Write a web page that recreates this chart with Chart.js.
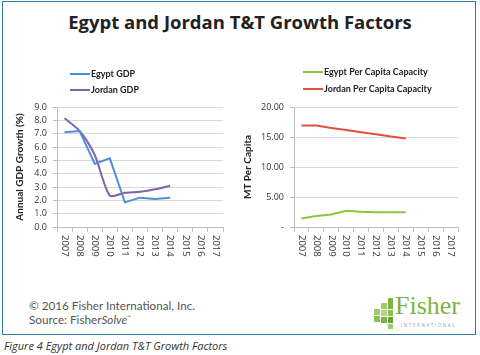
<!DOCTYPE html>
<html>
<head>
<meta charset="utf-8">
<script src="https://cdn.jsdelivr.net/npm/chart.js@4"></script>
<style>
  html, body { margin:0; padding:0; background:#fff; }
  body { width:480px; height:355px; position:relative; overflow:hidden; font-family:'Open Sans', sans-serif; }
  #frame { position:absolute; left:2px; top:1px; width:472px; height:332px; border:1.5px solid #2f7c9e; }
  #title { position:absolute; left:0; top:10px; width:480px; text-align:center; font-family:'Open Sans'; font-weight:bold; font-size:18.5px; color:#222; line-height:24px; }
  .cv { position:absolute; top:40px; }
  #copy { position:absolute; left:29px; top:299px; font-family:'Lato'; font-size:11.7px; color:#555; line-height:12px; }
  #caption { position:absolute; left:4px; top:339px; font-family:'Open Sans'; font-style:italic; font-size:11px; color:#333; line-height:14px; }
  .blk { position:absolute; background:#8cc152; }
  #fisher { position:absolute; left:395px; top:291px; font-family:'Liberation Serif'; font-size:26px; color:#7cb342; line-height:30px; }
  #intl { position:absolute; left:401px; top:322px; font-family:'Open Sans'; font-size:4.5px; letter-spacing:1.6px; color:#9a9a9a; }
</style>
</head>
<body>
<div id="frame"></div>
<div id="title">Egypt and Jordan T&amp;T Growth Factors</div>
<canvas id="c1" class="cv" width="240" height="240" style="left:0px"></canvas>
<canvas id="c2" class="cv" width="240" height="240" style="left:240px"></canvas>
<div id="copy">© 2016 Fisher International, Inc.<br>Source: Fisher<i>Solve</i><sup style="font-size:5px">™</sup></div>
<div class="blk" style="left:388px;top:298px;width:5px;height:11px;background:#7cb342"></div>
<div class="blk" style="left:381px;top:303px;width:6px;height:6px;background:#9ccc65"></div>
<div class="blk" style="left:388px;top:310px;width:5px;height:6px;background:#8bc34a"></div>
<div class="blk" style="left:381px;top:310px;width:6px;height:6px;background:#aed581"></div>
<div class="blk" style="left:374px;top:309px;width:6px;height:6px;background:#9ccc65"></div>
<div class="blk" style="left:388px;top:317px;width:5px;height:6px;background:#689f38"></div>
<div class="blk" style="left:381px;top:317px;width:6px;height:6px;background:#7cb342"></div>
<div class="blk" style="left:374px;top:316px;width:6px;height:6px;background:#8bc34a"></div>
<div class="blk" style="left:388px;top:324px;width:5px;height:5px;background:#9ccc65"></div>
<div id="fisher">Fisher</div>
<div id="intl">INTERNATIONAL</div>
<div id="caption">Figure 4 Egypt and Jordan T&amp;T Growth Factors</div>

<script>
// ---- data ----
const years = ['2007','2008','2009','2010','2011','2012','2013','2014','2015','2016','2017'];
const egyptGdp = [7.1, 7.2, 4.75, 5.15, 1.85, 2.2, 2.1, 2.2];
const jordanGdp = [8.15, 7.2, 5.4, 2.35, 2.57, 2.65, 2.83, 3.1];
const egyptCap = [1.4, 1.85, 2.07, 2.72, 2.55, 2.45, 2.45, 2.45];
const jordanCap = [16.9, 16.9, 16.5, 16.15, 15.8, 15.45, 15.1, 14.75];
const gdpTicks = { min: 0, max: 9, step: 1 };
const capTicks = { min: 0, max: 20, step: 5 };

Chart.defaults.font.family = "'Open Sans', sans-serif";
Chart.defaults.color = '#333';

const customDraw = {
  id: 'customDraw',
  afterDraw(chart, args, opts) {
    const ctx = chart.ctx;
    const xs = chart.scales.x;
    // rotated category labels (reading top to bottom)
    ctx.save();
    ctx.fillStyle = '#333';
    ctx.font = "9.5px 'Open Sans'";
    ctx.textAlign = 'left';
    ctx.textBaseline = 'middle';
    xs.ticks.forEach((t, i) => {
      const x = xs.getPixelForTick(i);
      ctx.save();
      ctx.translate(x, xs.top + 8);
      ctx.rotate(Math.PI / 2);
      ctx.fillText(xs.getLabelForValue(t.value), 0, 0);
      ctx.restore();
    });
    // legend
    ctx.font = "bold 9px Lato";
    chart.data.datasets.forEach((ds, i) => {
      const y = opts.legendY + i * opts.legendGap;
      ctx.strokeStyle = ds.borderColor;
      ctx.lineWidth = 2;
      ctx.beginPath();
      ctx.moveTo(opts.legendX, y);
      ctx.lineTo(opts.legendX + 20, y);
      ctx.stroke();
      ctx.fillStyle = '#222';
      ctx.fillText(ds.label, opts.legendX + 21, y);
    });
    ctx.restore();
  }
};

function makeChart(id, datasets, tk, fmt, yTitle, pad, yWidth, titlePad, legend) {
  return new Chart(document.getElementById(id), {
    type: 'line',
    data: { labels: years, datasets },
    plugins: [customDraw],
    options: {
      responsive: false,
      animation: false,
      devicePixelRatio: 1,
      layout: { padding: pad },
      plugins: {
        legend: { display: false },
        tooltip: { enabled: false },
        customDraw: legend
      },
      elements: { point: { radius: 0 }, line: { borderWidth: 2 } },
      scales: {
        x: {
          offset: true,
          grid: { display: true, drawOnChartArea: false, drawTicks: true, tickLength: 5, offset: true, color: '#bfbfbf' },
          border: { color: '#bfbfbf' },
          ticks: { color: 'rgba(0,0,0,0)', autoSkip: false, minRotation: 90, maxRotation: 90, font: { size: 9.5 } },
          afterFit(s) { s.height = 53; }
        },
        y: {
          min: tk.min, max: tk.max,
          grid: { color: '#d9d9d9', drawTicks: true, tickLength: 4, tickColor: '#bfbfbf' },
          border: { color: '#bfbfbf' },
          ticks: { stepSize: tk.step, autoSkip: false, padding: 6, color: '#333', font: { size: 9 }, callback: fmt },
          title: { display: true, text: yTitle, color: '#222', font: { family: 'Lato', weight: 'bold', size: 10 }, padding: { top: titlePad, bottom: 0 } },
          afterFit(s) { s.width = yWidth; }
        }
      }
    }
  });
}

makeChart('c1', [
  { label: 'Egypt GDP', data: egyptGdp, borderColor: '#4f8fd8', tension: 0 },
  { label: 'Jordan GDP', data: jordanGdp, borderColor: '#7f62a8', tension: 0.25 }
], gdpTicks, v => v.toFixed(1), 'Annual GDP Growth (%)',
  { left: 10, right: 17, top: 67, bottom: 0 }, 47, 3.5,
  { legendX: 70, legendY: 34, legendGap: 16 });

makeChart('c2', [
  { label: 'Egypt Per Capita Capacity', data: egyptCap, borderColor: '#8dc63f', tension: 0 },
  { label: 'Jordan Per Capita Capacity', data: jordanCap, borderColor: '#e4503c', tension: 0 }
], capTicks, v => v === 0 ? '-' : v.toFixed(2), 'MT Per Capita',
  { left: 0, right: 22, top: 67, bottom: 0 }, 54, 2,
  { legendX: 63, legendY: 32, legendGap: 17 });
</script>
</body>
</html>
